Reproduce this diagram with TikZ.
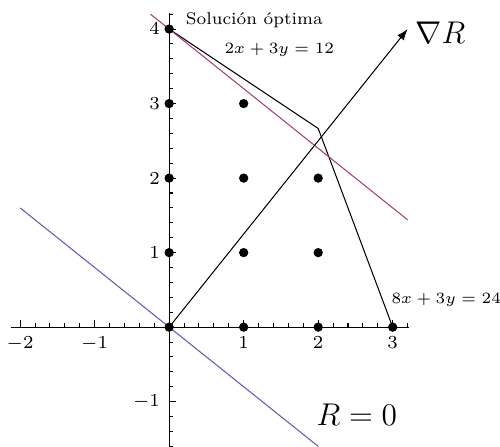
\documentclass[tikz,border=0pt]{standalone}
\usetikzlibrary{arrows.meta,backgrounds}
\definecolor{rojo}{RGB}{170,60,120}
\definecolor{azul}{RGB}{90,90,190}
\tikzset{
  punto/.style={circle,fill,inner sep=0pt,minimum size=1.25mm},
  etiqueta/.style={font=\scriptsize},
  texto/.style={font=\fontsize{6.5}{8}\selectfont,anchor=west},
  grande/.style={font=\large}
}
\begin{document}
\begin{tikzpicture}[x=1cm,y=1cm]
        \useasboundingbox (-2.27,-1.6) rectangle (4.44,4.39);

        % Ejes
        \draw (-2.12,0) -- (3.22,0);
        \draw (0,-1.6) -- (0,4.21);
        \foreach \i in {-10,...,16} \draw (\i/5,0) -- ++(0,0.05);
        \foreach \i in {-8,...,21} \draw (0,\i/5) -- ++(0.05,0);
        \foreach \i in {-2,...,3} \draw (\i,0) -- ++(0,0.09);
        \foreach \i in {-1,...,4} \draw (0,\i) -- ++(0.09,0);
        \foreach \i [count=\k] in {-2,-1,1,2,3}
            \node[etiqueta,below] (tx\k) at (\i,0) {$\i$};
        \foreach \i [count=\k] in {-1,1,2,3,4}
            \node[etiqueta,left] (ty\k) at (0,\i) {$\i$};

        % Puntos enteros
        \foreach \px/\py in {0/0,1/0,2/0,3/0,0/1,1/1,2/1,0/2,1/2,2/2,0/3,1/3,0/4}
            \node[punto] (p\px\py) at (\px,\py) {};

        \coordinate (vertice) at (2,8/3);
        \coordinate (grad) at (3.2,4);
        \coordinate (r1) at (-0.25,4.2);
        \coordinate (r2) at (3.2,1.44);
        \coordinate (a1) at (-2,1.6);
        \coordinate (a2) at (2,-1.6);

        \begin{scope}[on background layer]
            % Restricciones
            \draw (p04.center) -- (vertice) -- (p30.center);
            % Rectas de nivel
            \draw[rojo] (r1) -- (r2);
            \draw[azul] (a1) -- (a2);
            % Gradiente
            \draw[-{Latex[length=1.5mm,width=1.1mm]}] (p00.center) -- (grad);
        \end{scope}

        % Textos
        \node[texto] (optima) at (0.1,4.12) {Solución óptima};
        \node[texto] (rest1) at (0.62,3.72) {$2x+3y=12$};
        \node[texto] (rest2) at (2.86,0.36) {$8x+3y=24$};
        \node[grande] (nabla) at (3.64,3.95) {$\nabla R$};
        \node[grande] (cero) at (2.52,-1.18) {$R=0$};
    \end{tikzpicture}
\end{document}
